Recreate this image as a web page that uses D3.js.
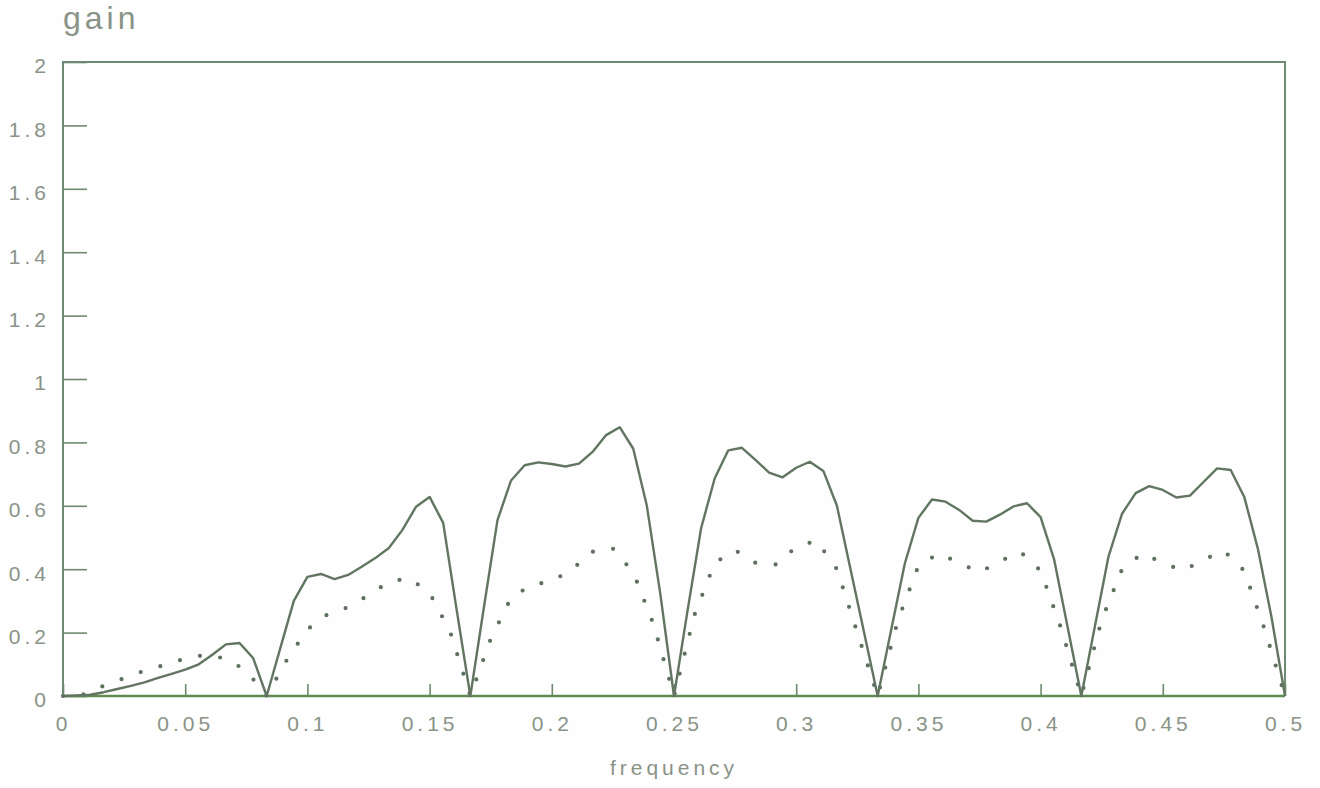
<!DOCTYPE html>
<html>
<head>
<meta charset="utf-8">
<script src="https://cdn.jsdelivr.net/npm/d3@7"></script>
<style>
  body { margin: 0; background: #fdfefd; }
  text { font-family: "Liberation Sans", Arial, sans-serif; fill: #8a9388; }
</style>
</head>
<body>
<script>
var solidGain = [
  0, 0.002, 0.004, 0.012, 0.022, 0.032, 0.043, 0.057, 0.07, 0.083, 0.1, 0.13, 0.163, 0.167, 0.12,
  0, 0.15, 0.30, 0.376, 0.385, 0.369, 0.382, 0.408, 0.435, 0.467, 0.524, 0.597, 0.628, 0.546, 0.27,
  0, 0.28, 0.555, 0.68, 0.728, 0.737, 0.732, 0.724, 0.733, 0.77, 0.823, 0.848, 0.78, 0.6, 0.32,
  0, 0.27, 0.53, 0.687, 0.775, 0.783, 0.745, 0.705, 0.69, 0.72, 0.739, 0.71, 0.6, 0.4, 0.2,
  0, 0.21, 0.418, 0.562, 0.62, 0.613, 0.587, 0.553, 0.55, 0.572, 0.598, 0.608, 0.564, 0.43, 0.215,
  0, 0.22, 0.44, 0.575, 0.64, 0.662, 0.65, 0.626, 0.632, 0.675, 0.718, 0.713, 0.628, 0.465, 0.25,
  0
];
var dottedGain = [
  0, 0.005, 0.032, 0.056, 0.08, 0.098, 0.118, 0.13, 0.118, 0.08,
  0, 0.115, 0.21, 0.258, 0.28, 0.318, 0.36, 0.372, 0.325, 0.205,
  0, 0.18, 0.31, 0.35, 0.362, 0.40, 0.455, 0.465, 0.39, 0.225,
  0, 0.255, 0.42, 0.46, 0.42, 0.415, 0.47, 0.49, 0.40, 0.20,
  0, 0.24, 0.41, 0.45, 0.42, 0.39, 0.425, 0.455, 0.395, 0.215,
  0, 0.24, 0.40, 0.45, 0.42, 0.395, 0.43, 0.458, 0.395, 0.21,
  0
];
var xTicks = [0, 0.05, 0.1, 0.15, 0.2, 0.25, 0.3, 0.35, 0.4, 0.45, 0.5];
var yTicks = [0, 0.2, 0.4, 0.6, 0.8, 1, 1.2, 1.4, 1.6, 1.8, 2];

var width = 1320, height = 788;
var plotLeft = 63, plotRight = 1285, plotTop = 62, plotBottom = 696;

var solidData = solidGain.map(function(g, i){ return {freq: i / 180, gain: g}; });
var dottedData = dottedGain.map(function(g, i){ return {freq: i / 120, gain: g}; });

var x = d3.scaleLinear().domain([0, 0.5]).range([plotLeft, plotRight]);
var y = d3.scaleLinear().domain([0, 2]).range([plotBottom, plotTop]);

var svg = d3.select('body').append('svg')
            .attr('width', width)
            .attr('height', height);

var line = d3.line()
             .x(function(d){ return x(d.freq); })
             .y(function(d){ return y(d.gain); });

// axes
var yAxis = d3.axisLeft(y).tickValues(yTicks).tickSize(-24).tickPadding(13)
              .tickFormat(function(d){ return d3.format('')(d); });
var xAxis = d3.axisBottom(x).tickValues(xTicks).tickSize(-12).tickPadding(20)
              .tickFormat(function(d){ return d3.format('')(d); });

svg.append('g').attr('transform', 'translate(' + plotLeft + ',0)').call(customAxis, yAxis, 'y');
svg.append('g').attr('transform', 'translate(0,' + plotBottom + ')').call(customAxis, xAxis, 'x');

function customAxis(g, axis, dir) {
  g.call(axis);
  g.select('.domain').remove();
  g.selectAll('.tick line').attr('stroke', '#6e8a6e').attr('stroke-width', 1.6);
  g.selectAll('.tick text')
   .attr('font-size', 21)
   .attr('letter-spacing', 4)
   .attr('font-family', '"Liberation Sans", Arial, sans-serif')
   .attr('fill', '#8f978d');
  if (dir === 'y') g.selectAll('.tick text').attr('dy', '0.52em');
}

// frame
svg.append('path')
   .attr('d', 'M' + x(0) + ',' + y(0) + 'V' + y(2) + 'H' + x(0.5) + 'V' + y(0))
   .attr('fill', 'none')
   .attr('stroke', '#6f8a72')
   .attr('stroke-width', 2);
svg.append('line')
   .attr('x1', x(0)).attr('x2', x(0.5))
   .attr('y1', y(0)).attr('y2', y(0))
   .attr('stroke', '#5f8a52')
   .attr('stroke-width', 2.6);

// curves
svg.append('path')
   .attr('d', line(dottedData))
   .attr('fill', 'none')
   .attr('stroke', '#5f705f')
   .attr('stroke-width', 4.2)
   .attr('stroke-linecap', 'round')
   .attr('stroke-dasharray', '0,20.5');

svg.append('path')
   .attr('d', line(solidData))
   .attr('fill', 'none')
   .attr('stroke', '#617561')
   .attr('stroke-width', 2.4)
   .attr('stroke-linejoin', 'round');

// titles
svg.append('text')
   .attr('x', 63).attr('y', 29)
   .attr('font-size', 32)
   .attr('letter-spacing', 4)
   .text('gain');

svg.append('text')
   .attr('x', (plotLeft + plotRight) / 2).attr('y', 775)
   .attr('text-anchor', 'middle')
   .attr('font-size', 21)
   .attr('letter-spacing', 4)
   .text('frequency');
</script>
</body>
</html>
